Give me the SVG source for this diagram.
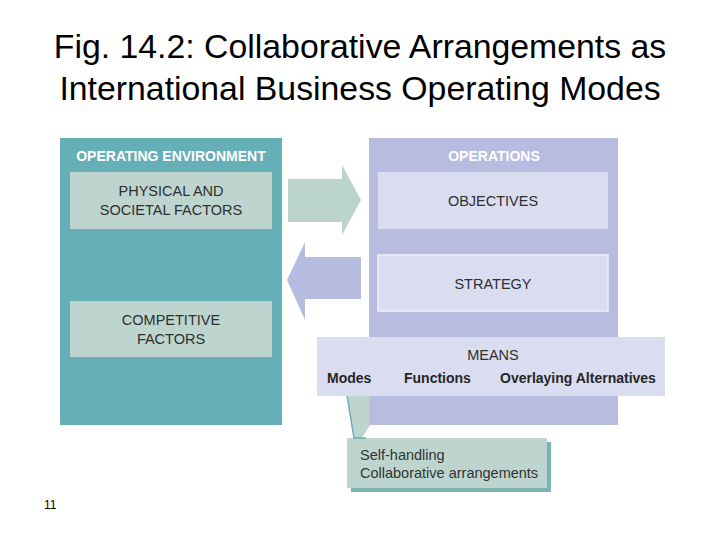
<svg xmlns="http://www.w3.org/2000/svg" width="720" height="540" viewBox="0 0 720 540">
<style>
.title{font-family:"Liberation Sans",Arial,sans-serif;font-size:33.8px;fill:#000;text-anchor:middle}
.hdr{font-family:"Liberation Sans",Arial,sans-serif;font-size:14px;font-weight:bold;fill:#fff;text-anchor:middle}
.lbl{font-family:"Liberation Sans",Arial,sans-serif;font-size:14.5px;fill:#2f2f2f;text-anchor:middle}
.mean{font-family:"Liberation Sans",Arial,sans-serif;font-size:14px;font-weight:bold;fill:#262626}
.call{font-family:"Liberation Sans",Arial,sans-serif;font-size:14.5px;fill:#333}
.teal{fill:#67afb6}
.green{fill:#bdd5ce}
.purple{fill:#b8bce0}
.lav{fill:#dadcf0}
</style>
<rect width="720" height="540" fill="#fff"/>
<g id="title">
<text class="title" x="360" y="58">Fig. 14.2: Collaborative Arrangements as</text>
<text class="title" x="360" y="100">International Business Operating Modes</text>
</g>
<g id="operating-environment">
<rect class="teal" x="60" y="138" width="222" height="287"/>
<text class="hdr" x="171" y="161">OPERATING ENVIRONMENT</text>
</g>
<g id="physical-societal">
<rect class="green" x="70" y="172" width="202" height="57"/>
<text class="lbl" x="171" y="196">PHYSICAL AND</text>
<text class="lbl" x="171" y="215">SOCIETAL FACTORS</text>
</g>
<g id="competitive">
<rect class="green" x="70" y="301" width="202" height="56"/>
<text class="lbl" x="171" y="325">COMPETITIVE</text>
<text class="lbl" x="171" y="344">FACTORS</text>
</g>
<g id="modes-callout">
<rect x="351" y="442" width="200" height="50" fill="#7db2b3"/>
<polygon class="green" points="346,389 370,389 370,425 362,438 547,438 547,488 347,488 347,438 354,438"/>
<polyline points="346,389 354,438 366,438" fill="none" stroke="#6aadb0" stroke-width="1.5"/>
<text class="call" x="360" y="460">Self-handling</text>
<text class="call" x="360" y="478">Collaborative arrangements</text>
</g>
<g id="operations">
<rect class="purple" x="369" y="138" width="249" height="287"/>
<text class="hdr" x="494" y="161">OPERATIONS</text>
</g>
<g id="objectives">
<rect class="lav" x="378" y="172" width="230" height="57"/>
<text class="lbl" x="493" y="206">OBJECTIVES</text>
</g>
<g id="strategy">
<rect class="lav" x="378" y="255" width="230" height="56" stroke="#eeeff8" stroke-width="1.5"/>
<text class="lbl" x="493" y="289">STRATEGY</text>
</g>
<g id="means">
<rect class="lav" x="317" y="337" width="348" height="59"/>
<text class="lbl" x="493" y="360">MEANS</text>
<text class="mean" x="327" y="383">Modes</text>
<text class="mean" x="404" y="383">Functions</text>
<text class="mean" x="500" y="383">Overlaying Alternatives</text>
</g>
<g id="connectors">
<polygon fill="#bad3cd" points="288,179 342,179 342,165 361,200 342,235 342,222 288,222"/>
<polygon fill="#b6bbe0" points="361,257 305,257 305,242 287,280 305,320 305,299 361,299"/>
</g>
<g id="page-number">
<text x="44" y="509" font-family="'Liberation Sans',Arial,sans-serif" font-size="12" fill="#000">11</text>
</g>
</svg>
